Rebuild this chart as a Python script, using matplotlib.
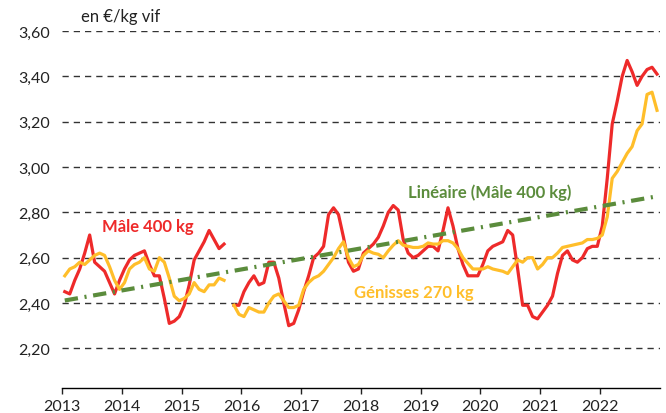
import numpy as np
import matplotlib
matplotlib.use('Agg')
import matplotlib.pyplot as plt

# prix mensuels (en €/kg vif), janv. 2013 -> déc. 2022, oct. 2015 manquant
annees = list(range(2013, 2023))
male_400 = [
    2.45, 2.44, 2.50, 2.55, 2.62, 2.70, 2.58, 2.56, 2.54, 2.49, 2.44, 2.50,
    2.55, 2.59, 2.61, 2.62, 2.63, 2.57, 2.52, 2.52, 2.42, 2.31, 2.32, 2.34,
    2.39, 2.48, 2.59, 2.63, 2.67, 2.72, 2.68, 2.64, 2.66, np.nan, 2.39, 2.39,
    2.45, 2.49, 2.52, 2.48, 2.49, 2.58, 2.58, 2.51, 2.40, 2.30, 2.31, 2.37,
    2.45, 2.52, 2.60, 2.62, 2.65, 2.79, 2.82, 2.79, 2.69, 2.58, 2.54, 2.55,
    2.62, 2.64, 2.66, 2.69, 2.74, 2.80, 2.83, 2.81, 2.68, 2.62, 2.60, 2.61,
    2.63, 2.65, 2.65, 2.63, 2.72, 2.82, 2.74, 2.64, 2.57, 2.52, 2.52, 2.52,
    2.57, 2.63, 2.65, 2.66, 2.67, 2.72, 2.70, 2.55, 2.39, 2.39, 2.34, 2.33,
    2.36, 2.39, 2.43, 2.53, 2.61, 2.63, 2.59, 2.58, 2.60, 2.64, 2.65, 2.65,
    2.74, 2.95, 3.19, 3.29, 3.40, 3.47, 3.42, 3.36, 3.40, 3.43, 3.44, 3.41,
]
genisses_270 = [
    2.52, 2.55, 2.56, 2.58, 2.57, 2.59, 2.61, 2.62, 2.61, 2.56, 2.50, 2.46,
    2.49, 2.55, 2.57, 2.58, 2.60, 2.55, 2.54, 2.60, 2.58, 2.51, 2.43, 2.41,
    2.42, 2.44, 2.49, 2.46, 2.45, 2.48, 2.48, 2.51, 2.50, np.nan, 2.39, 2.35,
    2.34, 2.38, 2.37, 2.36, 2.36, 2.40, 2.43, 2.44, 2.41, 2.38, 2.38, 2.39,
    2.46, 2.49, 2.51, 2.52, 2.54, 2.57, 2.60, 2.64, 2.67, 2.60, 2.56, 2.57,
    2.61, 2.63, 2.62, 2.615, 2.60, 2.63, 2.655, 2.675, 2.655, 2.65, 2.645, 2.645,
    2.65, 2.665, 2.66, 2.66, 2.675, 2.675, 2.665, 2.64, 2.60, 2.575, 2.55, 2.55,
    2.55, 2.56, 2.55, 2.545, 2.54, 2.53, 2.56, 2.59, 2.58, 2.60, 2.60, 2.55,
    2.57, 2.60, 2.60, 2.62, 2.645, 2.65, 2.655, 2.66, 2.665, 2.68, 2.68, 2.685,
    2.70, 2.78, 2.95, 2.98, 3.02, 3.06, 3.09, 3.16, 3.19, 3.32, 3.33, 3.25,
]
yticks = [2.20, 2.40, 2.60, 2.80, 3.00, 3.20, 3.40, 3.60]

ROUGE = '#EE2A2A'
JAUNE = '#FFBE2A'
VERT = '#5B8C3C'

plt.rcParams['font.family'] = ['Lato', 'DejaVu Sans']

male = np.array(male_400, dtype=float)
gen = np.array(genisses_270, dtype=float)
x = annees[0] + (np.arange(len(male)) + 0.5) / 12  # milieu de mois

# tendance linéaire (comme la courbe de tendance Excel)
ok = ~np.isnan(male)
a, b = np.polyfit(x[ok], male[ok], 1)
xt = np.array([x[0], x[-1]])

fig = plt.figure(figsize=(6.66, 4.14), dpi=100)
ax = fig.add_axes([62.3 / 666, 1 - 389 / 414, (659.5 - 62.3) / 666, (389 - 32) / 414])

for v in yticks:
    ax.axhline(v, color='#333333', lw=1.0, dashes=(4.5, 3.6), zorder=1)

ax.plot(x, male, color=ROUGE, lw=2.3, zorder=3)
ax.plot(x, gen, color=JAUNE, lw=2.3, zorder=3)
ax.plot(xt, a * xt + b, color=VERT, lw=3.0, dashes=(3.2, 1.6, 0.5, 1.6),
        zorder=4)

ax.set_xlim(2013, 2023)
ax.set_ylim(2.025, 3.60)
ax.set_xticks(annees)
ax.set_xticklabels([str(y) for y in annees])
ax.set_yticks(yticks)
ax.set_yticklabels([f'{v:.2f}'.replace('.', ',') for v in yticks])

for s in ('left', 'right', 'top'):
    ax.spines[s].set_visible(False)
ax.spines['bottom'].set_color('black')
ax.spines['bottom'].set_linewidth(1.0)
ax.tick_params(axis='x', direction='out', length=4, width=1, pad=4,
               labelsize=11.5, colors='#222222')
ax.tick_params(axis='y', length=0, pad=9, labelsize=11.5, colors='#222222')

ax.text(2013.97, 3.665, 'en €/kg vif', ha='center', va='center',
        fontsize=12, color='#222222', clip_on=False)
ax.text(2014.43, 2.741, 'Mâle 400 kg', ha='center', va='center',
        fontsize=12, fontweight='bold', color=ROUGE)
ax.text(2018.88, 2.450, 'Génisses 270 kg', ha='center', va='center',
        fontsize=12, fontweight='bold', color=JAUNE)
ax.text(2020.16, 2.891, 'Linéaire (Mâle 400 kg)', ha='center', va='center',
        fontsize=12, fontweight='bold', color=VERT)

fig.savefig('out.png', dpi=100)
